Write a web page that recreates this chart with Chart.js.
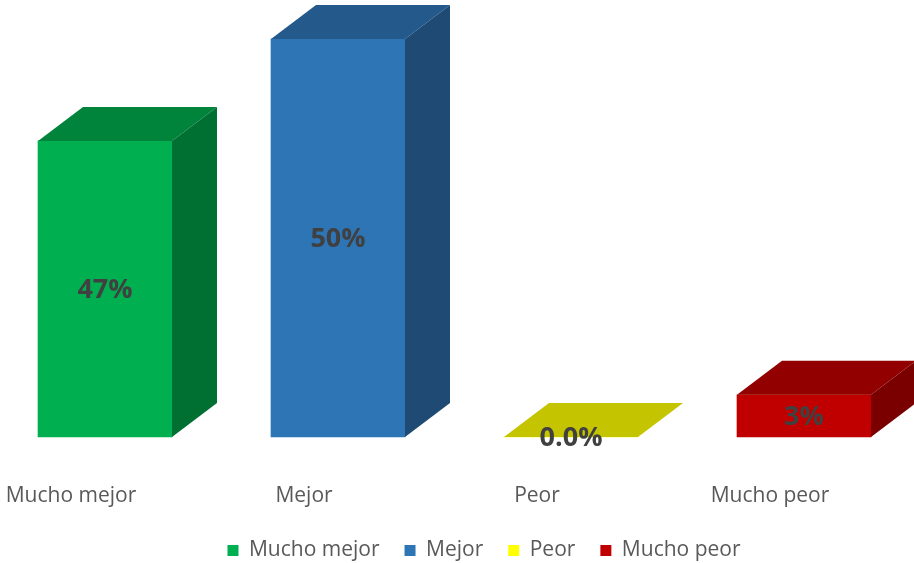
<!DOCTYPE html>
<html>
<head>
<meta charset="utf-8">
<script src="https://cdn.jsdelivr.net/npm/chart.js@4/dist/chart.umd.min.js"></script>
<style>
html,body{margin:0;padding:0;background:#ffffff;}
#wrap{width:914px;height:563px;}
</style>
</head>
<body>
<div id="wrap"><canvas id="c" width="914" height="563"></canvas></div>
<script>
// Categories and values
const categories = ['Mucho mejor', 'Mejor', 'Peor', 'Mucho peor'];
// bar heights as drawn in the picture (hidden axis 0–50, tallest bar = 50)
const values = [37.2, 50, 0, 5.3];
// data label texts printed on the bars
const valueLabels = ['47%', '50%', '0.0%', '3%'];

const frontColors = ['#00B050', '#2E75B6', '#FFFF00', '#C00000'];
const topColors   = ['#00843C', '#23598B', '#C4C400', '#920000'];
const sideColors  = ['#007032', '#1E4A74', '#A3A300', '#7A0000'];

const DX = 45, DY = 34;

const bar3d = {
  id: 'bar3d',
  afterDatasetsDraw(chart) {
    const ctx = chart.ctx;
    const meta = chart.getDatasetMeta(0);
    ctx.save();
    meta.data.forEach((el, i) => {
      const p = el.getProps(['x', 'y', 'base', 'width'], true);
      const l = p.x - p.width / 2, r = p.x + p.width / 2;
      const top = Math.min(p.y, p.base), base = Math.max(p.y, p.base);
      // top face
      ctx.fillStyle = topColors[i];
      ctx.beginPath();
      ctx.moveTo(l, top);
      ctx.lineTo(r, top);
      ctx.lineTo(r + DX, top - DY);
      ctx.lineTo(l + DX, top - DY);
      ctx.closePath();
      ctx.fill();
      // side face
      if (base - top > 0.5) {
        ctx.fillStyle = sideColors[i];
        ctx.beginPath();
        ctx.moveTo(r, top);
        ctx.lineTo(r + DX, top - DY);
        ctx.lineTo(r + DX, base - DY);
        ctx.lineTo(r, base);
        ctx.closePath();
        ctx.fill();
      }
    });
    ctx.font = 'bold 27px "Open Sans"';
    ctx.fillStyle = '#404040';
    ctx.textAlign = 'center';
    ctx.textBaseline = 'middle';
    meta.data.forEach((el, i) => {
      const p = el.getProps(['x', 'y', 'base'], true);
      ctx.fillText(valueLabels[i], p.x, (p.y + p.base) / 2 + 1);
    });
    ctx.restore();
  }
};

new Chart(document.getElementById('c'), {
  type: 'bar',
  data: {
    labels: categories,
    datasets: [{
      data: values,
      backgroundColor: frontColors,
      borderWidth: 0,
      barThickness: 134,
      clip: false
    }]
  },
  options: {
    responsive: false,
    animation: false,
    events: [],
    layout: { padding: { top: 39, left: 54, right: 0, bottom: -8 } },
    plugins: {
      tooltip: { enabled: false },
      legend: {
        display: true,
        position: 'bottom',
        labels: {
          boxWidth: 11,
          boxHeight: 11,
          padding: 25,
          color: '#595959',
          font: { family: 'Open Sans', size: 21 },
          generateLabels: () => categories.map((c, i) => ({
            text: c,
            fillStyle: frontColors[i],
            strokeStyle: frontColors[i],
            lineWidth: 0,
            hidden: false,
            index: i,
            fontColor: '#595959'
          }))
        }
      }
    },
    scales: {
      x: {
        type: 'category',
        offset: false,
        grid: { display: false },
        border: { display: false },
        ticks: {
          color: '#595959',
          font: { family: 'Open Sans', size: 21 },
          padding: 38,
          labelOffset: -34,
          maxRotation: 0,
          autoSkip: false
        },
        afterFit(s) { s.height = 78; }
      },
      y: {
        min: 0, max: 50,
        grid: { display: false },
        border: { display: false },
        ticks: { display: false },
        afterFit(s) { s.width = 51; }
      },
      y2: {
        position: 'right',
        min: 0, max: 50,
        grid: { display: false },
        border: { display: false },
        ticks: { display: false },
        afterFit(s) { s.width = 110; }
      }
    }
  },
  plugins: [bar3d]
});
</script>
</body>
</html>
